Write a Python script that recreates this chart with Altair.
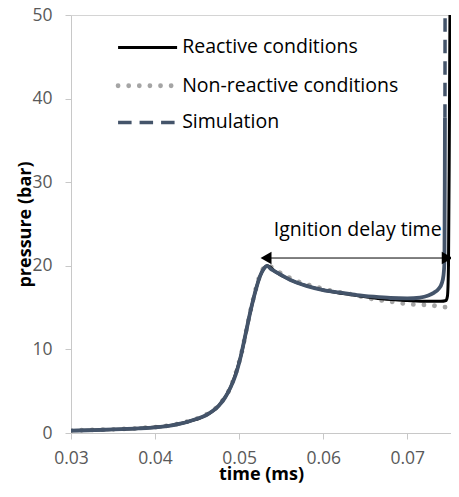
import altair as alt
import pandas as pd

# ---------------- data ----------------
# Simulation (solid part of the trace)
sim_t = [0.0300, 0.0320, 0.0340, 0.0360, 0.0380, 0.0400, 0.0420, 0.0430, 0.0440, 0.0450,
         0.0460, 0.0468, 0.0476, 0.0483, 0.0490, 0.0496, 0.0502, 0.0508, 0.0514, 0.0520,
         0.0525, 0.0529, 0.05333, 0.0538, 0.0543, 0.0550, 0.0561, 0.0580, 0.0600, 0.0620,
         0.0640, 0.0660, 0.0680, 0.0700, 0.0715, 0.0725, 0.0732, 0.0737, 0.0741, 0.0743,
         0.07442, 0.07446, 0.07448]
sim_p = [0.28, 0.33, 0.39, 0.46, 0.55, 0.68, 0.92, 1.12, 1.38, 1.70,
         2.10, 2.60, 3.30, 4.20, 5.50, 7.00, 9.20, 12.0, 14.8, 17.2,
         18.8, 19.6, 20.0, 19.6, 19.3, 18.9, 18.3, 17.6, 17.1, 16.8,
         16.5, 16.3, 16.15, 16.1, 16.2, 16.45, 16.8, 17.2, 17.9, 18.8,
         20.5, 30.0, 37.7]
# Simulation (dashed top of the ignition jump)
simtop_t = [0.07448, 0.07450]
simtop_p = [37.7, 55.0]

# Reactive conditions (experiment)
rea_t = [0.0300, 0.0340, 0.0380, 0.0420, 0.0440, 0.0460, 0.0476, 0.0490, 0.0502, 0.0514,
         0.0525, 0.05333, 0.0543, 0.0561, 0.0600, 0.0640, 0.0670, 0.0700, 0.0725, 0.0740,
         0.0746, 0.07478, 0.0749, 0.0750, 0.0751]
rea_p = [0.28, 0.39, 0.55, 0.92, 1.38, 2.10, 3.30, 5.50, 9.20, 14.8,
         18.8, 20.0, 19.3, 18.3, 17.1, 16.45, 16.05, 15.85, 15.75, 15.75,
         15.85, 16.4, 20.0, 35.0, 55.0]

# Non-reactive conditions (experiment)
non_t = [0.0300, 0.0340, 0.0380, 0.0420, 0.0440, 0.0460, 0.0476, 0.0490, 0.0502, 0.0514,
         0.0525, 0.05333, 0.0543, 0.0561, 0.0600, 0.0640, 0.0663, 0.0678, 0.0704, 0.0718,
         0.0729, 0.0743, 0.0755]
non_p = [0.30, 0.41, 0.58, 0.95, 1.42, 2.15, 3.35, 5.55, 9.25, 14.85,
         18.9, 20.1, 19.5, 18.5, 17.25, 16.45, 15.95, 15.75, 15.4, 15.35,
         15.27, 15.07, 15.05]

series_names = ["Reactive conditions", "Non-reactive conditions", "Simulation"]

# annotation: ignition delay double arrow
arrow_t = [0.05313, 0.07482]
arrow_p = [20.93, 20.93]
head_t = [0.0532, 0.07475]
head_shape = ["triangle-left", "triangle-right"]
annot_text = ["Ignition delay time"]
annot_t = [0.06410]
annot_p = [23.6]

# legend placement (data coordinates)
leg_t0, leg_t1, leg_tl = 0.03560, 0.04262, 0.04322
leg_p = [46.12, 41.54, 37.15]

x_ticks = [0.03, 0.04, 0.05, 0.06, 0.07]
y_ticks = [0, 10, 20, 30, 40, 50]
x_max = 0.0752

# ---------------- tables ----------------
sim_df = pd.DataFrame({"t": sim_t, "p": sim_p})
simtop_df = pd.DataFrame({"t": simtop_t, "p": simtop_p})
rea_df = pd.DataFrame({"t": rea_t, "p": rea_p})
non_df = pd.DataFrame({"t": non_t, "p": non_p})
arrow_df = pd.DataFrame({"t": arrow_t, "p": arrow_p})
head_df = pd.DataFrame({"t": head_t, "p": arrow_p, "shape": head_shape})
annot_df = pd.DataFrame({"t": annot_t, "p": annot_p, "label": annot_text})
leg_df = pd.DataFrame({"name": series_names, "t0": [leg_t0] * 3, "t1": [leg_t1] * 3,
                       "tl": [leg_tl] * 3, "p": leg_p})

FONT = "Open Sans"
SIM_COLOR = "#44546A"
NON_COLOR = "#A5A5A5"

xs = alt.Scale(domain=[0.03, x_max], nice=False, zero=False)
ys = alt.Scale(domain=[0, 50], nice=False)

x_axis = alt.Axis(values=x_ticks, format=".2f", title="time (ms)", grid=False,
                  labelFlush=False, tickSize=6, labelPadding=10,
                  titleY=46, titleBaseline="alphabetic")
y_axis = alt.Axis(values=y_ticks, title="pressure (bar)", grid=True,
                  gridColor="#D4D4D4",
                  gridOpacity={"condition": {"test": "datum.value === 50", "value": 1}, "value": 0},
                  labelFlush=False, tickSize=6, labelPadding=13,
                  titleAngle=270, titleX=-41, titleY=209, titleBaseline="alphabetic")

X = alt.X("t:Q", scale=xs, axis=x_axis)
Y = alt.Y("p:Q", scale=ys, axis=y_axis)
Xn = alt.X("t:Q", scale=xs)
Yn = alt.Y("p:Q", scale=ys)

non_line = alt.Chart(non_df).mark_line(
    color=NON_COLOR, strokeWidth=4.8, strokeDash=[0.01, 10.6], strokeCap="round",
    interpolate="monotone", clip=True).encode(x=X, y=Y)
rea_line = alt.Chart(rea_df).mark_line(
    color="black", strokeWidth=3, interpolate="monotone", clip=True).encode(x=Xn, y=Yn)
sim_line = alt.Chart(sim_df).mark_line(
    color=SIM_COLOR, strokeWidth=3.8, interpolate="monotone", clip=True).encode(x=Xn, y=Yn)
simtop_line = alt.Chart(simtop_df).mark_line(
    color=SIM_COLOR, strokeWidth=3.5, strokeDash=[13.5, 8], clip=True).encode(x=Xn, y=Yn)

arrow_line = alt.Chart(arrow_df).mark_line(color="black", strokeWidth=1).encode(x=Xn, y=Yn)
heads = alt.Chart(head_df).mark_point(filled=True, size=160, color="black", opacity=1).encode(
    x=Xn, y=Yn, shape=alt.Shape("shape:N", scale=None, legend=None))
annot = alt.Chart(annot_df).mark_text(
    font=FONT, fontSize=19.5, color="black", align="center", baseline="alphabetic").encode(
    x=Xn, y=Yn, text="label:N")

leg_base = alt.Chart(leg_df)
leg_rea = leg_base.transform_filter(alt.datum.name == series_names[0]).mark_rule(
    color="black", strokeWidth=3).encode(x=alt.X("t0:Q", scale=xs), x2="t1:Q", y=alt.Y("p:Q", scale=ys))
leg_non = leg_base.transform_filter(alt.datum.name == series_names[1]).mark_rule(
    color=NON_COLOR, strokeWidth=4.8, strokeDash=[0.01, 10.6], strokeCap="round").encode(
    x=alt.X("t0:Q", scale=xs), x2="t1:Q", y=alt.Y("p:Q", scale=ys))
leg_sim = leg_base.transform_filter(alt.datum.name == series_names[2]).mark_rule(
    color=SIM_COLOR, strokeWidth=3.5, strokeDash=[13.5, 8]).encode(
    x=alt.X("t0:Q", scale=xs), x2="t1:Q", y=alt.Y("p:Q", scale=ys))
leg_text = leg_base.mark_text(font=FONT, fontSize=19.5, color="black", align="left",
                              baseline="middle").encode(
    x=alt.X("tl:Q", scale=xs), y=alt.Y("p:Q", scale=ys), text="name:N")

chart = alt.layer(
    non_line, rea_line, sim_line, simtop_line, arrow_line, heads, annot,
    leg_rea, leg_non, leg_sim, leg_text
).properties(
    width=380, height=418,
    autosize=alt.AutoSizeParams(type="none"),
    padding={"left": 63, "top": 7, "right": 0, "bottom": 51},
).configure_view(stroke=None).configure_axis(
    labelFont=FONT, labelFontSize=17.5, labelColor="#595959",
    titleFont=FONT, titleFontSize=18, titleFontWeight="bold", titleColor="black",
    domainColor="#C8C8C8", tickColor="#C8C8C8", domainWidth=1, tickWidth=1,
)

chart.save("out.html", embed_options={"renderer": "svg", "actions": False})
